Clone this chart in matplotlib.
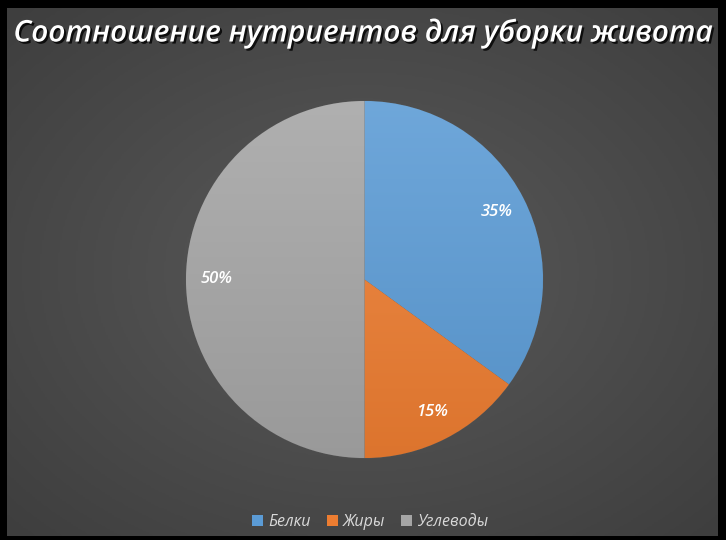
import matplotlib.pyplot as plt
import matplotlib.patheffects as pe
from matplotlib.patches import Rectangle
import numpy as np

labels = ["Белки", "Жиры", "Углеводы"]
shares = [35, 15, 50]
colors = ["#5B9BD5", "#ED7D31", "#A5A5A5"]
title = "Соотношение нутриентов для уборки живота"

fnt = ["Open Sans", "DejaVu Sans"]

fig = plt.figure(figsize=(7.26, 5.44), dpi=100)
fig.patch.set_facecolor("black")

# background with radial gradient
bg = fig.add_axes([7/726, 8/544, 711/726, 528/544])
yy, xx = np.mgrid[-1:1:300j, -1:1:400j]
rr = np.sqrt(xx**2 + yy**2) / np.sqrt(2)
bg.imshow(rr, cmap=plt.matplotlib.colors.LinearSegmentedColormap.from_list(
    "bgc", ["#5a5a5a", "#3e3e3e"]), aspect="auto", extent=[0, 1, 0, 1])
bg.set_axis_off()

# white strip at the very bottom
fig.patches.append(Rectangle((0, 0), 1, 4/544, transform=fig.transFigure,
                             facecolor="white", edgecolor="none"))

ax = fig.add_axes([186/726, (544-458)/544, 357/726, 357/544])
wedges, texts, autotexts = ax.pie(
    shares, colors=colors, startangle=90, counterclock=False,
    autopct="%1.0f%%", pctdistance=0.83,
    wedgeprops=dict(linewidth=0.6, edgecolor="#555555"),
    textprops=dict(color="white", fontsize=12, style="italic",
                   weight="semibold", family=fnt))

# vertical shading inside each slice
grad = np.linspace(1.0, 0.0, 256).reshape(-1, 1)
for w, c in zip(wedges, colors):
    rgb = np.array(plt.matplotlib.colors.to_rgb(c))
    light = rgb + (1 - rgb) * 0.12
    dark = rgb * 0.93
    img = dark + (light - dark) * grad[..., None]
    im = ax.imshow(img, extent=[-1, 1, -1, 1], aspect="auto", zorder=1.5)
    im.set_clip_path(w)
for t in autotexts:
    t.set_zorder(3)
ax.set_xlim(-1, 1)
ax.set_ylim(-1, 1)
ax.set_aspect("equal")

fig.text(0.5, 1 - 33/544, title, ha="center", va="center", color="white",
         fontsize=21.5, style="italic", weight="semibold", family=fnt,
         path_effects=[pe.withSimplePatchShadow(offset=(1.5, -1.5),
                                                shadow_rgbFace="black", alpha=0.8)])

handles = [Rectangle((0, 0), 1, 1, facecolor=c) for c in colors]
fig.legend(handles, labels, loc="center", bbox_to_anchor=(370/726, 1 - 522/544),
           ncol=3, frameon=False, handlelength=0.7, handleheight=0.7,
           handletextpad=0.3, columnspacing=1.0,
           prop=dict(family=fnt, style="italic", size=11.5), labelcolor="#d9d9d9")

fig.savefig("out.png", dpi=100, facecolor=fig.get_facecolor())
